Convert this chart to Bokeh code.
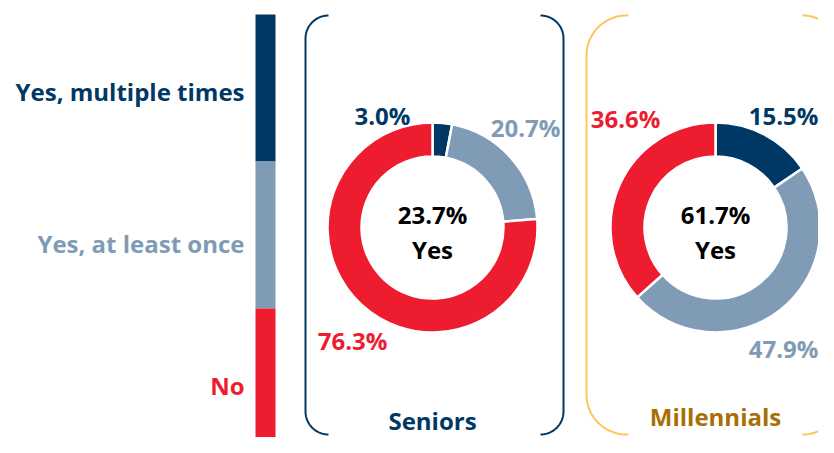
import numpy as np
from bokeh.plotting import figure
from bokeh.models import Range1d, ColumnDataSource
from bokeh.core.properties import value
from bokeh.embed import file_html
from bokeh.resources import INLINE

# ---------------- data ----------------
categories = ["Yes, multiple times", "Yes, at least once", "No"]
groups = ["Seniors", "Millennials"]
seniors = [3.0, 20.7, 76.3]
millennials = [15.5, 47.9, 36.6]
yes_totals = [23.7, 61.7]

# ---------------- style ----------------
cat_colors = ["#003865", "#7F9BB5", "#ED1C2E"]
group_text_colors = ["#003865", "#A86F05"]
group_line_colors = ["#003865", "#FFC55A"]
FONT = value("Open Sans")

W, H = 818, 437
SH = 453  # data y = SH - screen y


def Y(y):
    return SH - np.asarray(y, dtype=float)


p = figure(width=W, height=H, output_backend="svg", toolbar_location=None,
           x_range=Range1d(0, W), y_range=Range1d(SH - H, SH),
           min_border=0, outline_line_color=None)
p.axis.visible = False
p.grid.visible = False
p.background_fill_color = "white"

# ---------------- legend bar ----------------
bar_left, bar_right, bar_top, bar_bottom = 255, 275, 14, 455
n = len(categories)
seg = (bar_bottom - bar_top) / n
tops = [bar_top + i * seg for i in range(n)]
bots = [bar_top + (i + 1) * seg for i in range(n)]
p.quad(left=bar_left, right=bar_right, top=Y(tops), bottom=Y(bots),
       fill_color=cat_colors, line_color=None)

legend_label_y = [91, 243, 385]
p.text(x=[244] * n, y=Y(legend_label_y), text=categories,
       text_color=cat_colors, text_font=FONT, text_font_style="bold",
       text_font_size="24px", text_align="right", text_baseline="middle")

# ---------------- donuts ----------------
centers_x = [432, 715]
center_y = 227
r_out, r_in = 105, 71
label_pos = [
    [(382, 115), (525, 127), (352, 340)],
    [(783, 115), (783, 348), (625, 118)],
]
bracket_x = [(305, 328, 563, 540, 23), (586, 628, 842, 802, 40)]
b_top, b_bot = 15, 434
group_title_y = [420, 416]

for gi, (vals, cx) in enumerate(zip([seniors, millennials], centers_x)):
    v = np.array(vals, dtype=float)
    frac = v / v.sum()
    cum = np.concatenate([[0], np.cumsum(frac)])
    start = np.pi / 2 - 2 * np.pi * cum[1:]
    end = np.pi / 2 - 2 * np.pi * cum[:-1]
    src = ColumnDataSource(dict(start=start, end=end, color=cat_colors))
    p.annular_wedge(x=cx, y=Y(center_y), inner_radius=r_in, outer_radius=r_out,
                    start_angle="start", end_angle="end", fill_color="color",
                    line_color="white", line_width=2.5, source=src)

    lx = [lp[0] for lp in label_pos[gi]]
    ly = [lp[1] for lp in label_pos[gi]]
    p.text(x=lx, y=Y(ly), text=[f"{x:.1f}%" for x in vals],
           text_color=cat_colors, text_font=FONT, text_font_style="bold",
           text_font_size="24px", text_align="center", text_baseline="middle")

    p.text(x=[cx, cx], y=Y([214, 249]), text=[f"{yes_totals[gi]:.1f}%", "Yes"],
           text_color="black", text_font=FONT, text_font_style="bold",
           text_font_size="24px", text_align="center", text_baseline="middle")

    p.text(x=[cx], y=Y([group_title_y[gi]]), text=[groups[gi]],
           text_color=group_text_colors[gi], text_font=FONT, text_font_style="bold",
           text_font_size="24px", text_align="center", text_baseline="middle")

    # brackets
    lxv, lxe, rxv, rxe, r = bracket_x[gi]
    for xv, xe in [(lxv, lxe), (rxv, rxe)]:
        s = np.sign(xe - xv)
        t = np.linspace(0, np.pi / 2, 24)
        top_x = xv + s * r - s * r * np.sin(t)
        top_y = b_top + r - r * np.cos(t)
        bot_x = xv + s * r - s * r * np.cos(t)
        bot_y = b_bot - r + r * np.sin(t)
        xs = np.concatenate([[xe], top_x, bot_x, [xe]])
        ys = np.concatenate([[b_top], top_y, bot_y, [b_bot]])
        p.line(xs, Y(ys), line_color=group_line_colors[gi], line_width=2)

open("out.html", "w").write(file_html(p, INLINE))
